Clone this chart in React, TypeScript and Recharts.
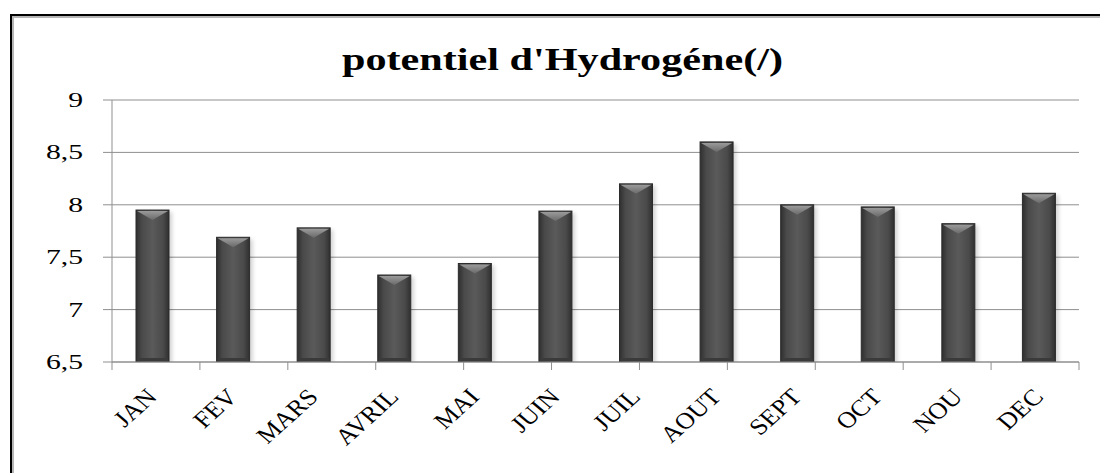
import { BarChart, Bar, XAxis, YAxis, CartesianGrid } from "recharts";

const months = ["JAN", "FEV", "MARS", "AVRIL", "MAI", "JUIN", "JUIL", "AOUT", "SEPT", "OCT", "NOU", "DEC"];
const phValues = [7.95, 7.69, 7.78, 7.33, 7.44, 7.94, 8.2, 8.6, 8.0, 7.98, 7.82, 8.11];
const yTicks = [6.5, 7, 7.5, 8, 8.5, 9];
const edgeTicks = [0, 1, 2, 3, 4, 5, 6, 7, 8, 9, 10, 11, 12];

const data = months.map((m, i) => ({ month: m, ph: phValues[i] }));

const STRETCH = 1.35;
const GRID = "#8f8f8f";

function BevelBar(props: any) {
  const { x, y, width, height } = props;
  if (height <= 0) return null;
  const d = Math.min(10, height / 2);
  return (
    <g>
      <rect x={x + 3} y={y + 2} width={width} height={height} fill="#000" opacity={0.18} filter="url(#soft)" />
      <rect x={x} y={y} width={width} height={height} fill="url(#barFill)" stroke="#2b2b2b" strokeWidth={1} />
      <polygon
        points={`${x + 1},${y + 1} ${x + width - 1},${y + 1} ${x + width / 2},${y + d}`}
        fill="url(#capFill)"
      />
      <rect x={x + 1} y={y + height - 4} width={width - 2} height={3} fill="#3a3a3a" />
    </g>
  );
}

function YTick(props: any) {
  const { x, y, payload } = props;
  return (
    <text
      transform={`translate(${x},${y}) scale(${STRETCH},1)`}
      textAnchor="end"
      dy={7}
      fontFamily="'Liberation Serif', serif"
      fontSize={22}
      fill="#000"
    >
      {String(payload.value).replace(".", ",")}
    </text>
  );
}

function MonthTick(props: any) {
  const { x, y, payload } = props;
  return (
    <text
      transform={`translate(${x + 6},${y + 19}) scale(1.15,1) rotate(-46)`}
      textAnchor="end"
      fontFamily="'Liberation Serif', serif"
      fontSize={23}
      fill="#000"
    >
      {payload.value}
    </text>
  );
}

export default function App() {
  return (
    <div style={{ position: "relative", width: 1100, height: 473, overflow: "hidden", background: "#fff" }}>
      <style>{`body{margin:0;overflow:hidden}`}</style>
      <div
        style={{
          position: "absolute",
          left: 10,
          top: 14,
          width: 1200,
          height: 600,
          borderLeft: "2px solid #000",
          borderTop: "2px solid #000",
          boxShadow: "inset 2px 2px 0 #b5b5b5",
        }}
      />
      <svg width={1100} height={100} style={{ position: "absolute", left: 0, top: 0 }}>
        <text
          x={342}
          y={70}
          textLength={441}
          lengthAdjust="spacingAndGlyphs"
          fontFamily="'Liberation Serif', serif"
          fontWeight="bold"
          fontSize={31}
          fill="#000"
        >
          potentiel d'Hydrogéne(/)
        </text>
      </svg>
      <div style={{ position: "absolute", left: 0, top: 0 }}>
        <BarChart width={1100} height={473} data={data} margin={{ top: 100, right: 21, bottom: 0, left: 0 }}>
          <defs>
            <linearGradient id="barFill" x1="0" y1="0" x2="1" y2="0">
              <stop offset="0" stopColor="#2f2f2f" />
              <stop offset="0.18" stopColor="#4a4a4a" />
              <stop offset="0.5" stopColor="#5a5a5a" />
              <stop offset="0.82" stopColor="#4a4a4a" />
              <stop offset="1" stopColor="#2f2f2f" />
            </linearGradient>
            <linearGradient id="capFill" x1="0" y1="0" x2="0" y2="1">
              <stop offset="0" stopColor="#9a9a9a" />
              <stop offset="1" stopColor="#6a6a6a" />
            </linearGradient>
            <filter id="soft" x="-20%" y="-5%" width="140%" height="110%">
              <feGaussianBlur stdDeviation="2" />
            </filter>
          </defs>
          <CartesianGrid xAxisId="bCat" vertical={false} stroke={GRID} strokeWidth={1} />
          <XAxis
            xAxisId="aEdges"
            type="number"
            domain={[0, 12]}
            ticks={edgeTicks}
            tickFormatter={() => ""}
            height={9}
            tickSize={8}
            stroke={GRID}
            tickLine={{ stroke: GRID }}
            axisLine={{ stroke: GRID }}
          />
          <XAxis
            xAxisId="bCat"
            dataKey="month"
            height={102}
            axisLine={false}
            tickLine={false}
            interval={0}
            tick={<MonthTick />}
          />
          <YAxis
            width={112}
            domain={[6.5, 9]}
            ticks={yTicks}
            allowDataOverflow
            tickSize={9}
            tickMargin={20}
            stroke={GRID}
            tickLine={{ stroke: GRID }}
            axisLine={{ stroke: GRID }}
            tick={<YTick />}
          />
          <Bar xAxisId="bCat" dataKey="ph" barSize={33} shape={<BevelBar />} isAnimationActive={false} />
        </BarChart>
      </div>
    </div>
  );
}
